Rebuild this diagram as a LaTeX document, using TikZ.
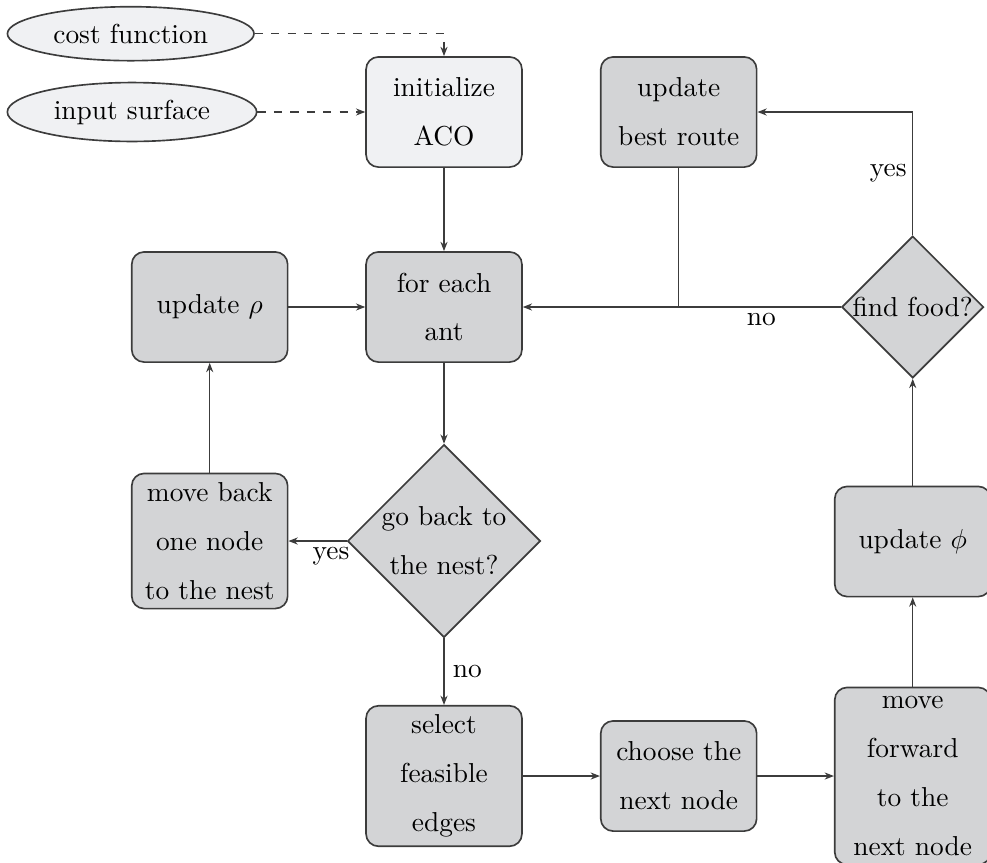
\documentclass[tikz,border=0pt]{standalone}
\usetikzlibrary{shapes.geometric,arrows.meta}
\definecolor{boxgray}{RGB}{211,212,214}
\definecolor{lightfill}{RGB}{240,241,243}
\definecolor{edgecol}{RGB}{60,60,60}
\tikzset{
  base/.style={draw=edgecol, line width=0.6pt, align=center,
    font=\fontsize{10pt}{17.8pt}\selectfont},
  procbox/.style={base, rectangle, rounded corners=4.5pt, fill=boxgray,
    minimum width=56.9pt, minimum height=40.2pt},
  initbox/.style={procbox, fill=lightfill},
  decision/.style={base, diamond, aspect=1, fill=boxgray, inner sep=0pt},
  inputell/.style={base, ellipse, fill=lightfill, inner sep=0pt},
  conn/.style={draw=edgecol, line width=0.45pt, -{Stealth[length=3.4pt,width=2.6pt]}},
  plainconn/.style={draw=edgecol, line width=0.45pt},
  dconn/.style={conn, dashed},
  lbl/.style={font=\fontsize{10pt}{12pt}\selectfont, inner sep=2pt}
}
\begin{document}
\begin{tikzpicture}[x=0.365pt, y=-0.365pt]
\useasboundingbox (0,0) rectangle (987,862);

\node[inputell, minimum width=90pt, minimum height=19.7pt] (cost) at (130.7,33.7) {cost function};
\node[inputell, minimum width=91pt, minimum height=21.5pt] (input) at (132,112) {input surface};
\node[initbox] (init) at (444,112) {initialize\\ACO};
\node[procbox] (best) at (678.7,112) {update\\best route};
\node[procbox] (fe) at (444,307) {for each\\ant};
\node[procbox] (rho) at (209.7,307) {update $\rho$};
\node[decision, minimum size=51.8pt] (ff) at (912.7,307) {find food?};
\node[decision, minimum size=70pt] (gb) at (444,541) {go back to\\the nest?};
\node[procbox] (mb) at (209.7,541) {move back\\one node\\to the nest};
\node[procbox] (phi) at (912.7,541.5) {update $\phi$};
\node[procbox] (sel) at (444,776) {select\\feasible\\edges};
\node[procbox] (choose) at (678.7,776) {choose the\\next node};
\node[procbox] (mf) at (912.7,776) {move\\forward\\to the\\next node};

\draw[dconn] (cost.east) -| (init.north);
\draw[dconn] (input.east) -- (init.west);
\draw[conn] (init.south) -- (fe.north);
\draw[conn] (rho.east) -- (fe.west);
\draw[conn] (fe.south) -- (gb.north);
\draw[conn] (gb.west) -- node[lbl, pos=0.27, below] {yes} (mb.east);
\draw[conn] (mb.north) -- (rho.south);
\draw[conn] (gb.south) -- node[lbl, midway, right, xshift=1pt] {no} (sel.north);
\draw[conn] (sel.east) -- (choose.west);
\draw[conn] (choose.east) -- (mf.west);
\draw[conn] (mf.north) -- (phi.south);
\draw[conn] (phi.north) -- (ff.south);
\draw[conn] (ff.west) -- node[lbl, pos=0.25, below] {no} (fe.east);
\draw[conn] (ff.north) |- node[lbl, pos=0.25, left] {yes} (best.east);
\draw[plainconn] (best.south) -- (best.south |- fe.east);
\end{tikzpicture}
\end{document}
